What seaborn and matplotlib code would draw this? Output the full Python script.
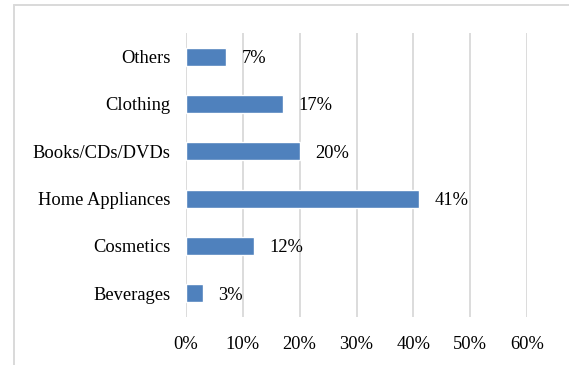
import matplotlib
matplotlib.use("Agg")
import matplotlib.pyplot as plt
from matplotlib.lines import Line2D
from matplotlib.ticker import FuncFormatter, MultipleLocator
import seaborn as sns
import pandas as pd

# Share of online purchases by product category (top to bottom)
categories = ["Others", "Clothing", "Books/CDs/DVDs", "Home Appliances", "Cosmetics", "Beverages"]
shares = [7, 17, 20, 41, 12, 3]
x_ticks = [0, 10, 20, 30, 40, 50, 60]

df = pd.DataFrame({"category": categories, "share": [s / 100 for s in shares]})

sns.set_style("white")
plt.rcParams["font.family"] = ["Liberation Serif", "DejaVu Serif"]
FS = 13.3

W, H = 569, 365
fig = plt.figure(figsize=(W / 100, H / 100), dpi=100)
ax = fig.add_axes([186 / W, 1 - 317 / H, (527 - 186) / W, (317 - 33) / H])

sns.barplot(data=df, x="share", y="category", orient="h", order=categories,
            color="#4f81bd", saturation=1, width=0.38, ax=ax, zorder=3)

ax.set_xlim(0, x_ticks[-1] / 100)
ax.set_ylim(len(categories) - 0.5, -0.5)
ax.xaxis.set_major_locator(MultipleLocator(0.1))
ax.xaxis.set_major_formatter(FuncFormatter(lambda v, _: f"{v * 100:.0f}%"))
ax.grid(axis="x", color="#d9d9d9", linewidth=1.3, zorder=0)
ax.grid(axis="y", visible=False)
for sp in ax.spines.values():
    sp.set_visible(False)
ax.tick_params(axis="y", length=0, pad=11, labelsize=FS, colors="black")
ax.tick_params(axis="x", length=0, pad=14, labelsize=FS, colors="black")
ax.set_xlabel("")
ax.set_ylabel("")

for i, v in enumerate(shares):
    ax.annotate(f"{v}%", xy=(v / 100, i), xytext=(11.2, 0), textcoords="offset points",
                va="center_baseline", ha="left", fontsize=FS, color="black")

# Light frame around the chart area
frame_kw = dict(color="#d9d9d9", linewidth=1.4, transform=fig.transFigure)
fig.add_artist(Line2D([13.5 / W, 13.5 / W], [0, 1 - 4.5 / H], **frame_kw))
fig.add_artist(Line2D([13.5 / W, 1], [1 - 4.5 / H, 1 - 4.5 / H], **frame_kw))

fig.savefig("out.png", dpi=100)
